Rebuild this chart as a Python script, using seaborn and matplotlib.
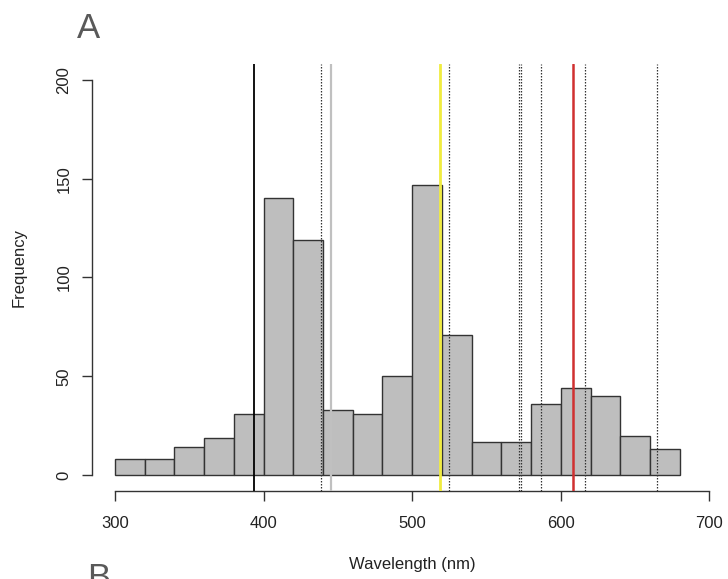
import matplotlib
matplotlib.use('Agg')
import matplotlib.pyplot as plt
import numpy as np
import seaborn as sns

# histogram bins (nm) and counts
bin_edges = list(range(300, 700, 20))
counts = [8, 8, 14, 19, 31, 140, 119, 33, 31, 50, 147, 71, 17, 17, 36, 44, 40, 20, 13]

# reference wavelengths drawn as vertical lines
solid_lines = [393.5, 445.5, 518.5, 608.0]
solid_colors = ['#000000', '#C0C0C0', '#F0EC40', '#D03030']
solid_widths = [1.3, 1.6, 2.0, 1.8]
dotted_lines = [438.5, 524.5, 572.0, 573.5, 586.5, 616.5, 664.5]

x_ticks = [300, 400, 500, 600, 700]
y_ticks = [0, 50, 100, 150, 200]

sns.set_style('white')
plt.rcParams['font.family'] = ['Liberation Sans', 'DejaVu Sans']

fig = plt.figure(figsize=(7.28, 5.79), dpi=100)
ax = fig.add_axes([0.1269, 0.152, 0.8537, 0.7375])

centers = [e + 10 for e in bin_edges[:-1]]
sns.histplot(x=centers, weights=counts, bins=bin_edges, color='#BEBEBE',
             edgecolor='#333333', linewidth=1.0, alpha=1, ax=ax)

for x in dotted_lines:
    ax.axvline(x, color='#333333', lw=0.9, ls=(0, (1.2, 1.2)), zorder=3)
for x, c, w in zip(solid_lines, solid_colors, solid_widths):
    ax.axvline(x, color=c, lw=w, zorder=4)

ax.set_xlim(284.8, 703)
ax.set_ylim(-8, 208)

for s in ['top', 'right']:
    ax.spines[s].set_visible(False)
ax.spines['left'].set_bounds(0, 200)
ax.spines['bottom'].set_bounds(300, 700)
for s in ['left', 'bottom']:
    ax.spines[s].set_color('#333333')
    ax.spines[s].set_linewidth(1.0)

ax.set_xticks(x_ticks)
ax.set_yticks(y_ticks)
ax.set_yticklabels([str(v) for v in y_ticks], rotation=90, va='center')
ax.tick_params(axis='both', which='both', direction='out', length=7, width=1.0,
               color='#333333', labelsize=12, labelcolor='#222222', left=True, bottom=True)
ax.tick_params(axis='x', pad=11)
ax.tick_params(axis='y', pad=8)
ax.set_xlabel('')
ax.set_ylabel('')

fig.text(412.5 / 728, 1 - 565 / 579, 'Wavelength (nm)', ha='center', va='center',
         fontsize=12, color='#222222')
fig.text(19 / 728, 1 - 268 / 579, 'Frequency', ha='center', va='center',
         rotation=90, fontsize=12, color='#222222')

fig.text(77 / 728, 1 - 12 / 579, 'A', ha='left', va='top', fontsize=25, color='#595959')
# the next panel's letter is cut off by the lower edge, as in the original figure
fig.text(87 / 728, 1 - 562 / 579, 'B', ha='left', va='top', fontsize=25, color='#595959')

fig.savefig('out.png', dpi=100)
